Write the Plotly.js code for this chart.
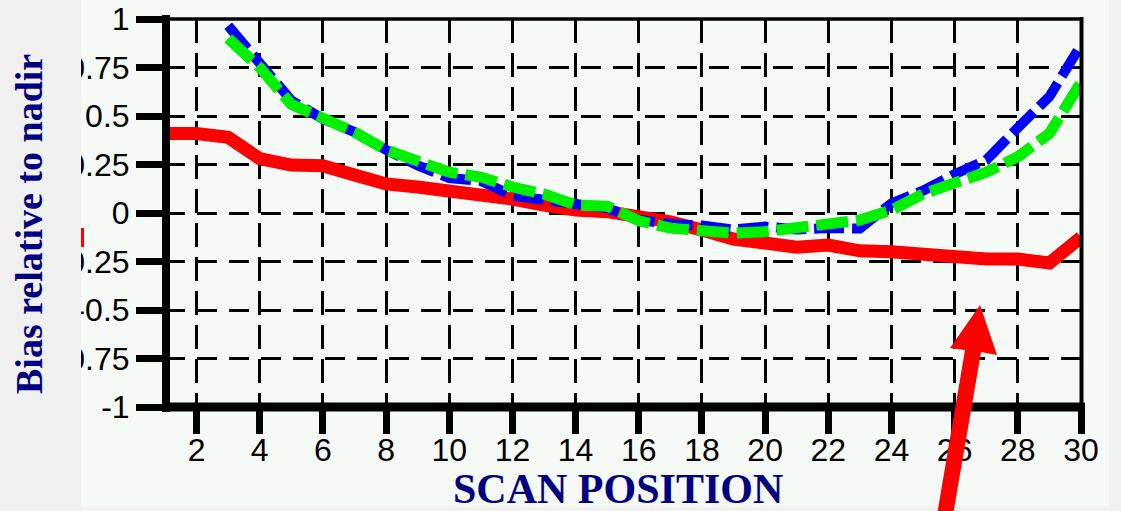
<!DOCTYPE html>
<html>
<head>
<meta charset="utf-8">
<script src="https://cdn.plot.ly/plotly-3.0.1.min.js"></script>
<style>
  html, body { margin: 0; padding: 0; background: #f1f1f1; }
  #chart { width: 1121px; height: 511px; }
</style>
</head>
<body>
<div id="chart"></div>
<script>
// ---- data ----
const scanPosition = [1, 2, 3, 4, 5, 6, 7, 8, 9, 10, 11, 12, 13, 14, 15,
                      16, 17, 18, 19, 20, 21, 22, 23, 24, 25, 26, 27, 28, 29, 30];
const biasRed = [0.41, 0.41, 0.39, 0.28, 0.247, 0.244, 0.196, 0.15, 0.134, 0.118,
                 0.098, 0.072, 0.041, 0.015, 0.007, -0.015, -0.046, -0.088, -0.134, -0.155,
                 -0.176, -0.165, -0.195, -0.2, -0.216, -0.228, -0.237, -0.237, -0.258, -0.125];
const biasBlue = [null, null, 0.965, 0.77, 0.58, 0.485, 0.417, 0.325, 0.245, 0.18,
                  0.165, 0.09, 0.067, 0.035, 0.025, -0.035, -0.057, -0.065, -0.085, -0.07,
                  -0.085, -0.077, -0.08, 0.05, 0.115, 0.2, 0.273, 0.44, 0.6, 0.866];
const biasGreen = [null, null, 0.9, 0.75, 0.56, 0.485, 0.417, 0.325, 0.265, 0.21,
                   0.185, 0.134, 0.098, 0.041, 0.035, -0.04, -0.078, -0.096, -0.104, -0.096,
                   -0.079, -0.062, -0.036, 0.015, 0.098, 0.155, 0.21, 0.29, 0.41, 0.675];
const xTickVals = [2, 4, 6, 8, 10, 12, 14, 16, 18, 20, 22, 24, 26, 28, 30];
const xTickText = ['2', '4', '6', '8', '10', '12', '14', '16', '18', '20', '22', '24', '26', '28', '30'];
const yTickVals = [-1, -0.75, -0.5, -0.25, 0, 0.25, 0.5, 0.75, 1];
const yTickText = ['-1', '-0.75', '-0.5', '-0.25', '0', '0.25', '0.5', '0.75', '1'];
const xTitle = 'SCAN POSITION';
const yTitle = 'Bias relative to nadir';

// ---- layout geometry ----
const W = 1121, H = 511;
const M = { l: 165, r: 40, t: 19, b: 104 };
const plotW = W - M.l - M.r, plotH = H - M.t - M.b;
const px = v => (v - M.l) / plotW;        // page pixel x -> paper x
const py = v => (H - M.b - v) / plotH;    // page pixel y -> paper y
const pt = (x, y) => px(x).toFixed(5) + ',' + py(y).toFixed(5);

const traces = [
  { x: scanPosition, y: biasRed, type: 'scatter', mode: 'lines', name: 'red',
    line: { color: '#ff0000', width: 13 } },
  { x: scanPosition, y: biasBlue, type: 'scatter', mode: 'lines', name: 'blue',
    line: { color: '#0000ff', width: 10, dash: '30px,8px' } },
  { x: scanPosition, y: biasGreen, type: 'scatter', mode: 'lines', name: 'green',
    line: { color: '#00f000', width: 11, dash: '32px,8px' } }
];

const arrowPath = 'M' + pt(937, 515) + 'L' + pt(953, 515) + 'L' + pt(981, 352) + 'L' + pt(997, 355) +
                  'L' + pt(980, 305) + 'L' + pt(950, 348) + 'L' + pt(965, 350) + 'Z';

const titleFont = { family: 'Liberation Serif, Times New Roman, serif', weight: 'bold', color: '#000080' };

const layout = {
  width: W, height: H,
  margin: M,
  showlegend: false,
  paper_bgcolor: '#f1f1f1',
  plot_bgcolor: 'rgba(0,0,0,0)',
  font: { family: 'Liberation Sans, Arial, sans-serif', color: '#000000' },
  xaxis: {
    range: [1, 30], tickvals: xTickVals, ticktext: xTickText,
    ticks: 'outside', ticklen: 26, tickwidth: 7, tickcolor: '#000',
    tickfont: { size: 32, color: '#000' }, ticklabelstandoff: -11,
    showline: false, zeroline: false,
    showgrid: true, gridcolor: '#000', gridwidth: 3, griddash: '24px,10px',
    automargin: false, fixedrange: true
  },
  yaxis: {
    range: [-1, 1], tickvals: yTickVals, ticktext: yTickText,
    ticks: 'outside', ticklen: 28, tickwidth: 7, tickcolor: '#000',
    tickfont: { size: 32, color: '#000' },
    showline: false, zeroline: false,
    showgrid: true, gridcolor: '#000', gridwidth: 3, griddash: '20px,12px',
    automargin: false, fixedrange: true
  },
  annotations: [
    { text: xTitle, xref: 'paper', yref: 'paper', x: px(618), y: py(489),
      xanchor: 'center', yanchor: 'middle', showarrow: false,
      font: Object.assign({ size: 42 }, titleFont) },
    { text: yTitle, xref: 'paper', yref: 'paper', x: px(29), y: py(224),
      xanchor: 'center', yanchor: 'middle', showarrow: false, textangle: -90,
      font: Object.assign({ size: 38 }, titleFont) }
  ],
  shapes: [
    // mint panel behind the chart
    { type: 'rect', xref: 'paper', yref: 'paper', layer: 'below',
      x0: px(81), x1: px(1109), y0: py(507), y1: py(0),
      fillcolor: '#f5faf7', line: { width: 0 } },
    // grey strip that crops the tick labels at the panel edge
    { type: 'rect', xref: 'paper', yref: 'paper', layer: 'above',
      x0: px(0), x1: px(81), y0: py(511), y1: py(0),
      fillcolor: '#f1f1f1', line: { width: 0 } },
    // thick left and bottom axis lines
    { type: 'line', xref: 'paper', yref: 'paper', layer: 'above',
      x0: px(166), x1: px(166), y0: py(412), y1: py(15), line: { color: '#000', width: 8 } },
    { type: 'line', xref: 'paper', yref: 'paper', layer: 'above',
      x0: px(162), x1: px(1085), y0: py(407), y1: py(407), line: { color: '#000', width: 9 } },
    // thin top and right frame
    { type: 'line', xref: 'paper', yref: 'paper', layer: 'above',
      x0: px(163), x1: px(1083), y0: py(19), y1: py(19), line: { color: '#000', width: 3.5 } },
    { type: 'line', xref: 'paper', yref: 'paper', layer: 'above',
      x0: px(1081.5), x1: px(1081.5), y0: py(17), y1: py(407), line: { color: '#000', width: 4 } },
    // small red mark at the left edge
    { type: 'rect', xref: 'paper', yref: 'paper', layer: 'above',
      x0: px(81), x1: px(84), y0: py(247), y1: py(228),
      fillcolor: '#ff0000', line: { width: 0 } },
    // red arrow
    { type: 'path', xref: 'paper', yref: 'paper', layer: 'above',
      path: arrowPath, fillcolor: '#ff0000', line: { width: 0 } }
  ]
};

Plotly.newPlot('chart', traces, layout, { displayModeBar: false, staticPlot: true });
</script>
</body>
</html>
